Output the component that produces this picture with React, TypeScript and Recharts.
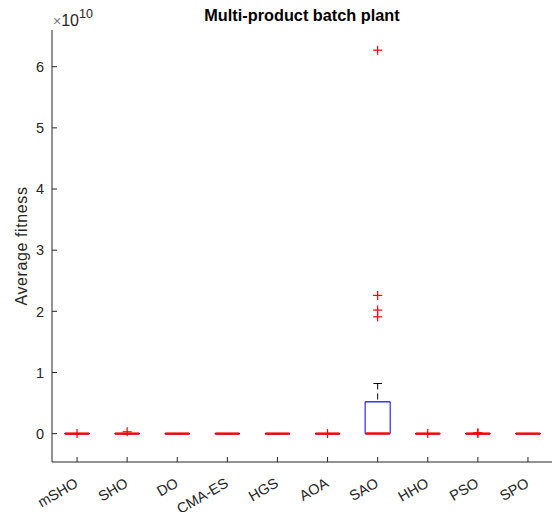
import { ComposedChart, XAxis, YAxis, Scatter, ReferenceLine } from 'recharts';

// values in units of 1e10
const categories = ['mSHO', 'SHO', 'DO', 'CMA-ES', 'HGS', 'AOA', 'SAO', 'HHO', 'PSO', 'SPO'];
const q1 = [0, 0, 0, 0, 0, 0, 0, 0, 0, 0];
const medians = [0, 0, 0, 0, 0, 0, 0.002, 0, 0, 0];
const q3 = [0, 0, 0, 0, 0, 0, 0.52, 0, 0, 0];
const lowerWhisker = [0, 0, 0, 0, 0, 0, 0, 0, 0, 0];
const upperWhisker = [0, 0, 0, 0, 0, 0, 0.82, 0, 0, 0];
const outliers = [[0], [0.03], [], [], [], [0], [1.91, 2.02, 2.26, 6.27], [0], [0, 0.015], []];
const yTicks = [0, 1, 2, 3, 4, 5, 6];
const xTicks = categories.map((_, i) => i + 1);

const outlierPoints = outliers.flatMap((vals, i) => vals.map((v) => ({ x: i + 1, y: v })));

const FONT = '"Liberation Sans", Arial, Helvetica, sans-serif';
const AXIS = '#262626';
const BOX_HALF = 0.25;
const CAP_HALF = 0.085;

const BottomTick = ({ x, y, payload }: any) => (
  <g>
    <line x1={x} x2={x} y1={y} y2={y - 5} stroke={AXIS} />
    <text
      x={x + 2}
      y={y + 24}
      textAnchor="end"
      fontSize={14.5}
      fontFamily={FONT}
      fill={AXIS}
      transform={`rotate(-30, ${x + 2}, ${y + 24})`}
    >
      {categories[payload.value - 1]}
    </text>
  </g>
);

const TopTick = ({ x, y }: any) => <line x1={x} x2={x} y1={y} y2={y + 5} stroke={AXIS} />;

const LeftTick = ({ x, y, payload }: any) => (
  <g>
    <line x1={x} x2={x + 5} y1={y} y2={y} stroke={AXIS} />
    <text x={x - 8} y={y} dy="0.36em" textAnchor="end" fontSize={14.5} fontFamily={FONT} fill={AXIS}>
      {payload.value}
    </text>
  </g>
);

const RightTick = ({ x, y }: any) => <line x1={x} x2={x - 5} y1={y} y2={y} stroke={AXIS} />;

const Plus = ({ cx, cy }: any) => (
  <g stroke="#ff0000" strokeWidth={1.2}>
    <line x1={cx - 4.5} x2={cx + 4.5} y1={cy} y2={cy} />
    <line x1={cx} x2={cx} y1={cy - 4.5} y2={cy + 4.5} />
  </g>
);

export default function App() {
  const seg = (x1: number, y1: number, x2: number, y2: number) => [
    { x: x1, y: y1 },
    { x: x2, y: y2 },
  ];

  return (
    <div style={{ position: 'absolute', left: 0, top: 0, width: 552, height: 512, overflow: 'hidden', background: '#fff' }}>
      <ComposedChart width={553} height={512} margin={{ top: 30, right: 0, bottom: 0, left: 0 }}>
        <XAxis
          xAxisId={0}
          dataKey="x"
          type="number"
          domain={[0.5, 10.5]}
          ticks={xTicks}
          interval={0}
          allowDataOverflow
          height={50}
          tickSize={0}
          tickMargin={0}
          tickLine={false}
          tick={<BottomTick />}
          axisLine={{ stroke: AXIS }}
        />
        <XAxis
          xAxisId="top"
          orientation="top"
          type="number"
          domain={[0.5, 10.5]}
          ticks={xTicks}
          interval={0}
          allowDataOverflow
          height={0}
          tickSize={0}
          tickMargin={0}
          tickLine={false}
          tick={<TopTick />}
          axisLine={{ stroke: AXIS }}
        />
        <YAxis
          yAxisId={0}
          type="number"
          domain={[-0.464, 6.6]}
          ticks={yTicks}
          interval={0}
          allowDataOverflow
          width={52}
          tickSize={0}
          tickMargin={0}
          tickLine={false}
          tick={<LeftTick />}
          axisLine={{ stroke: AXIS }}
        />
        <YAxis
          yAxisId="right"
          orientation="right"
          type="number"
          domain={[-0.464, 6.6]}
          ticks={yTicks}
          interval={0}
          allowDataOverflow
          width={0}
          tickSize={0}
          tickMargin={0}
          tickLine={false}
          tick={<RightTick />}
          axisLine={{ stroke: AXIS }}
        />

        {categories.map((c, i) => {
          const x = i + 1;
          return [
            <ReferenceLine key={`wu${c}`} segment={seg(x, upperWhisker[i], x, q3[i])} stroke="#000" strokeDasharray="6 4" ifOverflow="visible" />,
            <ReferenceLine key={`wl${c}`} segment={seg(x, lowerWhisker[i], x, q1[i])} stroke="#000" strokeDasharray="6 4" ifOverflow="visible" />,
            <ReferenceLine key={`cu${c}`} segment={seg(x - CAP_HALF, upperWhisker[i], x + CAP_HALF, upperWhisker[i])} stroke="#000" ifOverflow="visible" />,
            <ReferenceLine key={`cl${c}`} segment={seg(x - CAP_HALF, lowerWhisker[i], x + CAP_HALF, lowerWhisker[i])} stroke="#000" ifOverflow="visible" />,
            <ReferenceLine key={`bl${c}`} segment={seg(x - BOX_HALF, q1[i], x - BOX_HALF, q3[i])} stroke="#0000ff" ifOverflow="visible" />,
            <ReferenceLine key={`br${c}`} segment={seg(x + BOX_HALF, q1[i], x + BOX_HALF, q3[i])} stroke="#0000ff" ifOverflow="visible" />,
            <ReferenceLine key={`bt${c}`} segment={seg(x - BOX_HALF, q3[i], x + BOX_HALF, q3[i])} stroke="#0000ff" strokeWidth={1.2} ifOverflow="visible" />,
            <ReferenceLine key={`bb${c}`} segment={seg(x - BOX_HALF, q1[i], x + BOX_HALF, q1[i])} stroke="#0000ff" strokeWidth={1.2} ifOverflow="visible" />,
            <ReferenceLine key={`md${c}`} segment={seg(x - BOX_HALF + 0.01, medians[i], x + BOX_HALF - 0.01, medians[i])} stroke="#ff0000" strokeWidth={2.4} ifOverflow="visible" />,
          ];
        })}

        <Scatter data={outlierPoints} dataKey="y" shape={<Plus />} isAnimationActive={false} />
      </ComposedChart>

      <svg width={552} height={512} style={{ position: 'absolute', left: 0, top: 0, pointerEvents: 'none' }}>
        <text x={302} y={21} textAnchor="middle" fontSize={16.3} fontWeight="bold" fontFamily={FONT} fill="#000">
          Multi-product batch plant
        </text>
        <text
          x={27}
          y={246}
          textAnchor="middle"
          fontSize={16}
          letterSpacing={0.6}
          fontFamily={FONT}
          fill={AXIS}
          transform="rotate(-90, 27, 246)"
        >
          Average fitness
        </text>
        <text x={53} y={26} fontFamily={FONT} fill={AXIS}>
          <tspan fontSize={14} fill="#777">×</tspan>
          <tspan fontSize={16}>10</tspan>
          <tspan fontSize={12.5} dy={-8}>10</tspan>
        </text>
      </svg>
    </div>
  );
}
